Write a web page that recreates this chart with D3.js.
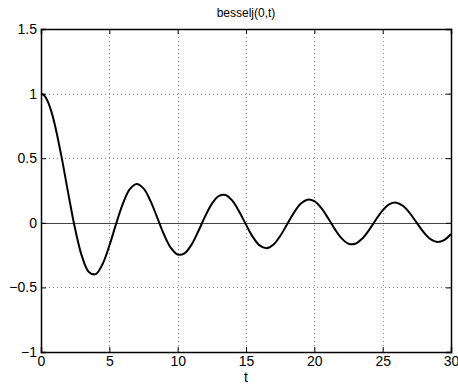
<!DOCTYPE html>
<html><head><meta charset="utf-8">
<script src="https://cdnjs.cloudflare.com/ajax/libs/d3/7.8.5/d3.min.js"></script>
<style>body{margin:0;background:#fff}svg{display:block}text{font-family:"Liberation Sans",Arial,sans-serif;fill:#000}</style>
</head><body>
<script>
const tValues = [0,0.25,0.5,0.75,1,1.5,2,2.5,3,3.5,4,4.5,5,5.5,6,6.5,7,7.5,8,8.5,9,9.5,10,10.5,11,11.5,12,12.5,13,13.5,14,14.5,15,15.5,16,16.5,17,17.5,18,18.5,19,19.5,20,20.5,21,21.5,22,22.5,23,23.5,24,24.5,25,25.5,26,26.5,27,27.5,28,28.5,29,29.5,30];
const jValues = [1,0.9844,0.9385,0.8642,0.7652,0.5118,0.2239,-0.0484,-0.2601,-0.3801,-0.3971,-0.3205,-0.1776,-0.0068,0.1506,0.2601,0.3001,0.2663,0.1717,0.0419,-0.0903,-0.1939,-0.2459,-0.2366,-0.1712,-0.0677,0.0477,0.1469,0.2069,0.2150,0.1711,0.0875,-0.0142,-0.1092,-0.1749,-0.1965,-0.1699,-0.1022,-0.0134,0.0772,0.1466,0.1789,0.1670,0.1151,0.0371,-0.0489,-0.1207,-0.1618,-0.1624,-0.1228,-0.0562,0.0237,0.0963,0.1441,0.1560,0.1299,0.0727,-0.0010,-0.0732,-0.1263,-0.1478,-0.1332,-0.0864];
const xTicks = [0,5,10,15,20,25,30];
const yTicks = [-1,-0.5,0,0.5,1,1.5];
const yTickLabels = ["\u22121","\u22120.5","0","0.5","1","1.5"];
const titleText = "besselj(0,t)";
const xLabelText = "t";

const W=458,H=385, L=41, R=451, T=29, B=352;
const svg=d3.select("body").append("svg").attr("width",W).attr("height",H);
const x=d3.scaleLinear().domain([0,30]).range([L,R]);
const y=d3.scaleLinear().domain([-1,1.5]).range([B,T]);

// grid
const g=svg.append("g");
g.selectAll(".vg").data(xTicks.slice(1,-1)).enter().append("line")
 .attr("x1",d=>Math.round(x(d))+0.5).attr("x2",d=>Math.round(x(d))+0.5).attr("y1",T).attr("y2",B)
 .attr("stroke","#888").attr("stroke-width",1).attr("stroke-dasharray","1,3");
g.selectAll(".hg").data(yTicks.slice(1,-1)).enter().append("line")
 .attr("y1",d=>Math.round(y(d))+0.5).attr("y2",d=>Math.round(y(d))+0.5).attr("x1",L).attr("x2",R)
 .attr("stroke","#888").attr("stroke-width",1).attr("stroke-dasharray","1,3");

// zero line
svg.append("line").attr("x1",x(0)).attr("x2",x(30)).attr("y1",Math.round(y(0))+0.5).attr("y2",Math.round(y(0))+0.5)
 .attr("stroke","#444").attr("stroke-width",1.2);

// curve
const pts=tValues.map((t,i)=>[t,jValues[i]]);
svg.append("path").datum(pts)
 .attr("d",d3.line().x(d=>x(d[0])).y(d=>y(d[1])).curve(d3.curveCatmullRom.alpha(0.5)))
 .attr("fill","none").attr("stroke","#000").attr("stroke-width",2);

// axes with inward ticks
const tl=-5;
svg.append("g").attr("transform",`translate(0,${B})`)
 .call(d3.axisBottom(x).tickValues(xTicks).tickSize(tl).tickPadding(4).tickFormat(d3.format("d")));
svg.append("g").attr("transform",`translate(0,${T})`)
 .call(d3.axisTop(x).tickValues(xTicks).tickSize(tl).tickFormat(""));
svg.append("g").attr("transform",`translate(${L},0)`)
 .call(d3.axisLeft(y).tickValues(yTicks).tickSize(tl).tickPadding(4).tickFormat((d,i)=>yTickLabels[i]));
svg.append("g").attr("transform",`translate(${R},0)`)
 .call(d3.axisRight(y).tickValues(yTicks).tickSize(tl).tickFormat(""));
svg.selectAll(".domain").attr("stroke","#000").attr("stroke-width",1.5);
svg.selectAll(".tick line").attr("stroke","#000").attr("stroke-width",1);
svg.selectAll(".tick text").attr("font-size",14).attr("font-family","Liberation Sans, Arial, sans-serif");

svg.append("text").attr("x",(L+R)/2).attr("y",17).attr("text-anchor","middle").attr("font-size",12).text(titleText);
svg.append("text").attr("x",(L+R)/2).attr("y",382).attr("text-anchor","middle").attr("font-size",14).text(xLabelText);
</script>
</body></html>
